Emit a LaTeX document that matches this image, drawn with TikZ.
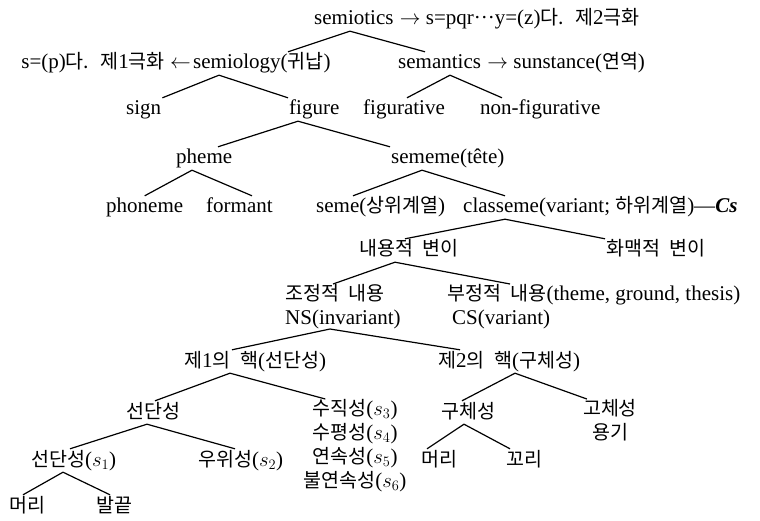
\documentclass[tikz,border=0pt]{standalone}
\usepackage{fontspec}
\setmainfont{Liberation Serif}
\newfontfamily\krfont[Scale=0.93,WordSpace=2.2]{Noto Sans CJK KR}
\newcommand\hg[1]{{\krfont #1}}
\usepackage{tikz}
\usetikzlibrary{positioning}

\begin{document}
\begin{tikzpicture}[x=1pt,y=-1pt,
    lbl/.style={anchor=base west,inner sep=1pt,text height=16pt,text depth=5pt,
                font=\fontsize{21}{23}\selectfont},
    stack/.style={inner sep=0pt,font=\fontsize{21}{24}\selectfont},
    br/.style={line width=1.2pt}]
    \useasboundingbox (0,0) rectangle (760,521);
    \node[lbl] (semiotics) at (313,25) {semiotics};
    \node[lbl] (pole2) at (semiotics.base east) {\hspace{4pt}$\rightarrow$ s=pqr···y=(z)\hg{다. 제}2\hg{극화}};
    \node[lbl] (semiology) at (192,69) {semiology(\hg{귀납})};
    \node[lbl,anchor=base east] (pole1) at (semiology.base west) {s=(p)\hg{다. 제}1\hg{극화} $\leftarrow$\hspace{6pt}};
    \node[lbl] (semantics) at (397,69) {semantics};
    \node[lbl] (substance) at (semantics.base east) {\hspace{4pt}$\rightarrow$ sunstance(\hg{연역})};
    \node[lbl] (sign) at (125,115) {sign};
    \node[lbl] (figure) at (288,115) {figure};
    \node[lbl] (figurative) at (362,115) {figurative};
    \node[lbl] (nonfig) at (479,115) {non-figurative};
    \node[lbl] (pheme) at (175,164) {pheme};
    \node[lbl] (sememe) at (390,164) {sememe(tête)};
    \node[lbl] (phoneme) at (105,213) {phoneme};
    \node[lbl] (formant) at (205,213) {formant};
    \node[lbl] (seme) at (315,213) {seme(\hg{상위계열})};
    \node[lbl] (classeme) at (462,213) {classeme(variant; \hg{하위계열})---\textbf{\textit{Cs}}};
    \node[lbl] (content) at (358,256) {\hg{내용적 변이}};
    \node[lbl] (context) at (605,256) {\hg{화맥적 변이}};
    \node[stack,anchor=north west,align=left] (ns) at (285,284) {\hg{조정적 내용}\\NS(invariant)};
    \node[stack,anchor=north west,align=left] (cs) at (447,284) {\hg{부정적 내용}(theme, ground, thesis)\\\hspace{5pt}CS(variant)};
    \node[lbl] (core1) at (183,367) {\hg{제}1\hg{의 핵}(\hg{선단성})};
    \node[lbl] (core2) at (437,367) {\hg{제}2\hg{의 핵}(\hg{구체성})};
    \node[lbl] (sd) at (125,418) {\hg{선단성}};
    \node[stack,anchor=north,align=center] (vert) at (355,399) {\hg{수직성}($s_3$)\\\hg{수평성}($s_4$)\\\hg{연속성}($s_5$)\\\hg{불연속성}($s_6$)};
    \node[lbl] (conc) at (440,418) {\hg{구체성}};
    \node[stack,anchor=north,align=center] (solid) at (610,399) {\hg{고체성}\\\hg{용기}};
    \node[lbl] (sd1) at (30,466) {\hg{선단성}($s_1$)};
    \node[lbl] (dom) at (197,466) {\hg{우위성}($s_2$)};
    \node[lbl] (head2) at (420,466) {\hg{머리}};
    \node[lbl] (tail) at (505,466) {\hg{꼬리}};
    \node[lbl] (head1) at (8,512) {\hg{머리}};
    \node[lbl] (toe) at (95,512) {\hg{발끝}};
    \draw[br] ([xshift=96pt]semiology.north west) -- ([xshift=37pt]semiotics.south west) -- ([xshift=28pt]semantics.north west);
    \draw[br] (sign.north east) -- ([xshift=27pt]semiology.south west) -- (figure.north west);
    \draw[br] ([xshift=45pt]figurative.north west) -- ([xshift=53pt]semantics.south west) -- ([xshift=23pt]nonfig.north west);
    \draw[br] ([xshift=43pt]pheme.north west) -- ([xshift=10pt]figure.south west) -- (sememe.north west);
    \draw[br] (phoneme.north) -- ([xshift=17pt]pheme.south west) -- ([xshift=47pt]formant.north west);
    \draw[br] ([xshift=38pt]seme.north west) -- ([xshift=32pt]sememe.south west) -- ([xshift=43pt]classeme.north west);
    \draw[br] ([xshift=47pt]content.north west) -- ([xshift=43pt]classeme.south west) -- (context.north west);
    \draw[br] ([xshift=48pt]ns.north west) -- ([xshift=37pt]content.south west) -- ([xshift=63pt]cs.north west);
    \draw[br] ([xshift=49pt]core1.north west) -- ([xshift=45pt]ns.south west) -- ([xshift=23pt]core2.north west);
    \draw[br] ([xshift=30pt]sd.north west) -- ([xshift=47pt]core1.south west) -- ([xshift=22pt]vert.north west);
    \draw[br] ([xshift=22pt]conc.north west) -- ([xshift=78pt]core2.south west) -- ([xshift=4pt]solid.north west);
    \draw[br] ([xshift=40pt]sd1.north west) -- ([xshift=22pt]sd.south west) -- ([xshift=38pt]dom.north west);
    \draw[br] ([xshift=7pt]head2.north west) -- ([xshift=24pt]conc.south west) -- ([xshift=5pt]tail.north west);
    \draw[br] ([xshift=15pt]head1.north west) -- ([xshift=33pt]sd1.south west) -- ([xshift=15pt]toe.north west);
\end{tikzpicture}
\end{document}
